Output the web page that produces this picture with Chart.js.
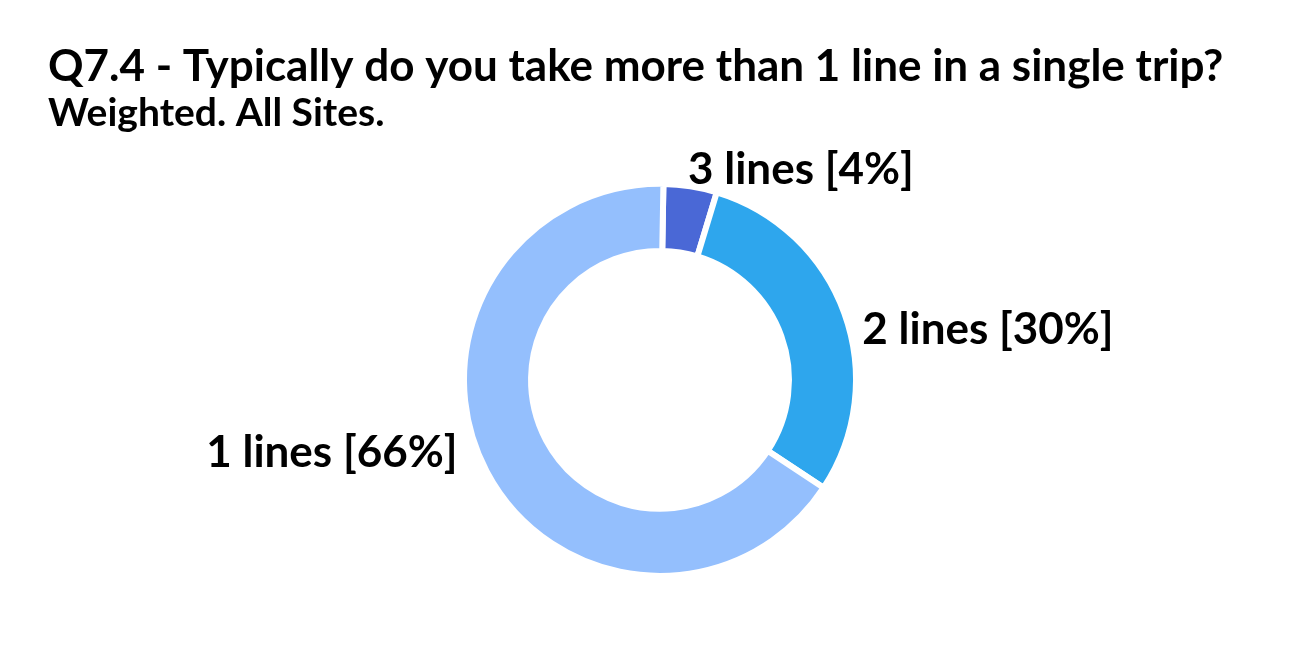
<!DOCTYPE html>
<html>
<head>
<meta charset="utf-8">
<script src="https://cdn.jsdelivr.net/npm/chart.js@4"></script>
<style>
  html, body { margin: 0; padding: 0; background: #fff; }
  #wrap { position: absolute; left: 38px; top: 0; width: 1272px; height: 654px; }
</style>
</head>
<body>
<div id="wrap"><canvas id="chart"></canvas></div>
<script>
const titleText = "Q7.4 - Typically do you take more than 1 line in a single trip?";
const subtitleText = "Weighted. All Sites.";
const categories = ["3 lines", "2 lines", "1 lines"];
const shares = [4.4, 29.6, 66.0];
const sliceColors = ["#4a68d6", "#2ea6ed", "#94bffd"];

// nudges for the outside labels, relative to the radial anchor
const labelNudge = [[-5, 0], [2, 22], [-14, -26]];

const outsideLabels = {
  id: "outsideLabels",
  afterDatasetsDraw(chart) {
    const ctx = chart.ctx;
    const meta = chart.getDatasetMeta(0);
    const total = shares.reduce((a, b) => a + b, 0);
    ctx.save();
    ctx.font = "bold 44px Lato";
    ctx.fillStyle = "#000";
    ctx.textBaseline = "middle";
    meta.data.forEach((arc, i) => {
      const p = arc.getProps(["x", "y", "startAngle", "endAngle", "outerRadius"], true);
      const mid = (p.startAngle + p.endAngle) / 2;
      const r = p.outerRadius - 3 + 20;
      const ax = p.x + Math.cos(mid) * r + labelNudge[i][0];
      const ay = p.y + Math.sin(mid) * r + labelNudge[i][1];
      ctx.textAlign = Math.cos(mid) >= 0 ? "left" : "right";
      const pct = Math.round(shares[i] / total * 100);
      ctx.fillText(categories[i] + " [" + pct + "%]", ax, ay);
    });
    ctx.restore();
  }
};

new Chart(document.getElementById("chart"), {
  type: "doughnut",
  data: {
    labels: categories,
    datasets: [{
      data: shares,
      backgroundColor: sliceColors,
      borderColor: "#ffffff",
      borderWidth: 6
    }]
  },
  options: {
    responsive: true,
    maintainAspectRatio: false,
    animation: false,
    radius: 196,
    cutout: "65.8%",
    rotation: 1,
    layout: { padding: { left: 10, right: 38, top: 0, bottom: 28 } },
    plugins: {
      legend: { display: false },
      tooltip: { enabled: false },
      title: {
        display: true,
        text: titleText,
        align: "start",
        color: "#000",
        font: { family: "Lato", size: 44, weight: "bold", lineHeight: 1.2 },
        padding: { top: 40, bottom: 0 }
      },
      subtitle: {
        display: true,
        text: subtitleText,
        align: "start",
        color: "#000",
        font: { family: "Lato", size: 39, weight: "bold", lineHeight: 1.05 },
        padding: { top: 0, bottom: 0 }
      }
    }
  },
  plugins: [outsideLabels]
});
</script>
</body>
</html>
